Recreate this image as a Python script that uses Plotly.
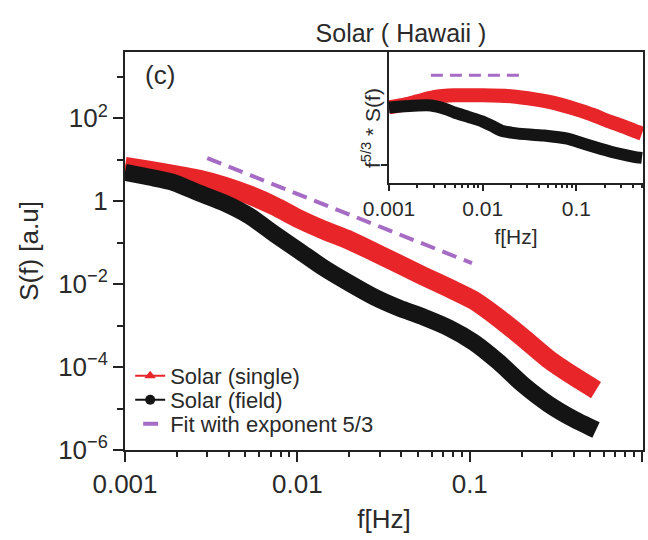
import plotly.graph_objects as go

# ---- data ----
f_single = [0.001, 0.0014, 0.0019, 0.0027, 0.0038, 0.0053, 0.0074, 0.0103, 0.0143, 0.02,
            0.028, 0.039, 0.054, 0.076, 0.105, 0.147, 0.205, 0.286, 0.4, 0.54]
s_single = [6.97, 5.58, 4.48, 3.39, 2.30, 1.40, 0.759, 0.368, 0.200, 0.115,
            0.059, 0.0303, 0.0156, 0.0080, 0.00411, 0.00152, 5.0e-4, 1.56e-4, 6.07e-5, 2.79e-5]

f_field = [0.001, 0.0014, 0.0019, 0.0027, 0.0038, 0.0053, 0.0074, 0.0103, 0.0143, 0.02,
           0.028, 0.039, 0.054, 0.076, 0.105, 0.147, 0.205, 0.286, 0.4, 0.54]
s_field = [5.0, 3.79, 2.87, 1.56, 0.895, 0.436, 0.160, 0.0624, 0.0243, 0.01057,
           0.00486, 0.00264, 0.0016, 8.7e-4, 4.0e-4, 1.32e-4, 3.68e-5, 1.28e-5, 5.58e-6, 3.03e-6]

f_fit = [0.003, 0.103]
s_fit = [11.0, 0.032]

# inset: compensated spectrum f^(5/3)*S(f), arbitrary units
fi_single = [0.001, 0.0015, 0.002, 0.003, 0.005, 0.01, 0.02, 0.036, 0.06, 0.1, 0.15, 0.21, 0.3, 0.41, 0.5]
ci_single = [0.577, 0.600, 0.623, 0.655, 0.669, 0.669, 0.662, 0.638, 0.608, 0.562, 0.52, 0.477, 0.438, 0.40, 0.377]
fi_field = [0.001, 0.0018, 0.0028, 0.004, 0.005, 0.007, 0.01, 0.013, 0.0157, 0.02, 0.024, 0.045,
            0.08, 0.12, 0.18, 0.28, 0.41, 0.5]
ci_field = [0.577, 0.590, 0.592, 0.565, 0.538, 0.505, 0.469, 0.43, 0.40, 0.385, 0.377, 0.362,
            0.338, 0.30, 0.262, 0.225, 0.2, 0.192]
fi_fit = [0.0028, 0.026]
ci_fit = [0.823, 0.823]

x_ticks = [0.001, 0.01, 0.1, 1]
x_ticktext = ["0.001", "0.01", "0.1", "1"]
y_ticks = [1e-6, 1e-4, 1e-2, 1, 1e2]
y_ticktext = ["10<sup>−6</sup>", "10<sup>−4</sup>", "10<sup>−2</sup>", "1", "10<sup>2</sup>"]
y_minor = [1e-5, 1e-3, 1e-1, 10, 1e3]
xi_ticks = [0.001, 0.01, 0.1]
xi_ticktext = ["0.001", "0.01", "0.1"]

RED = "#E8262A"
BLACK = "#141414"
PURPLE = "#A66BC4"
TXT = "#2a2a2a"
FONT = "Liberation Sans, Arial, Helvetica, sans-serif"

x_minor = [m * d for d in (0.001, 0.01, 0.1) for m in range(2, 10)]
xi_minor = [v for v in x_minor if v <= 0.5]

fig = go.Figure()

# main traces
fig.add_trace(go.Scatter(x=f_single, y=s_single, mode="lines", line=dict(color=RED, width=19, shape="spline", smoothing=0.6),
                         showlegend=False, xaxis="x", yaxis="y"))
fig.add_trace(go.Scatter(x=f_field, y=s_field, mode="lines", line=dict(color=BLACK, width=17, shape="spline", smoothing=0.6),
                         showlegend=False, xaxis="x", yaxis="y"))
fig.add_trace(go.Scatter(x=f_fit, y=s_fit, mode="lines", line=dict(color=PURPLE, width=4, dash="15px,8px"),
                         showlegend=False, xaxis="x", yaxis="y"))

# legend entries (one legend box each so the rows can be spaced like the reference)
fig.add_trace(go.Scatter(x=[None], y=[None], mode="lines+markers", name="Solar (single)", legend="legend",
                         line=dict(color=RED, width=2), marker=dict(symbol="triangle-up", size=10, color=RED)))
fig.add_trace(go.Scatter(x=[None], y=[None], mode="lines+markers", name="Solar (field)", legend="legend2",
                         line=dict(color=BLACK, width=2), marker=dict(symbol="circle", size=10, color=BLACK)))
fig.add_trace(go.Scatter(x=[None], y=[None], mode="lines", name="Fit with exponent 5/3", legend="legend3",
                         line=dict(color=PURPLE, width=4, dash="0px,8px,15px,40px")))

# inset traces
fig.add_trace(go.Scatter(x=fi_single, y=ci_single, mode="lines", line=dict(color=RED, width=14, shape="spline", smoothing=0.6),
                         showlegend=False, xaxis="x2", yaxis="y2"))
fig.add_trace(go.Scatter(x=fi_field, y=ci_field, mode="lines", line=dict(color=BLACK, width=12, shape="spline", smoothing=0.6),
                         showlegend=False, xaxis="x2", yaxis="y2"))
fig.add_trace(go.Scatter(x=fi_fit, y=ci_fit, mode="lines", line=dict(color=PURPLE, width=3, dash="12px,7px"),
                         showlegend=False, xaxis="x2", yaxis="y2"))

axis_common = dict(showline=True, linecolor="#222", linewidth=2, showgrid=False, zeroline=False,
                   ticks="outside", tickcolor="#222", tickwidth=1.5)

legend_common = dict(x=0.01, xanchor="left", yanchor="middle", bgcolor="rgba(0,0,0,0)",
                     font=dict(size=22, color=TXT), itemwidth=30)

fig.update_layout(
    width=648, height=540,
    margin=dict(l=125, r=3, t=52, b=90),
    paper_bgcolor="white", plot_bgcolor="white",
    font=dict(family=FONT, color=TXT, size=26),
    title=dict(text="Solar ( Hawaii )", x=401 / 648, y=1 - 33 / 540, xanchor="center", yanchor="middle",
               font=dict(size=25, color=TXT)),
    xaxis=dict(type="log", range=[-3, 0.005], domain=[0, 1], tickvals=x_ticks, ticktext=x_ticktext,
               ticklen=10, mirror=True, tickfont=dict(size=26),
               minor=dict(tickvals=x_minor, ticklen=5, ticks="outside", tickcolor="#222"),
               title=dict(text="f[Hz]", font=dict(size=26), standoff=12), **axis_common),
    yaxis=dict(type="log", range=[-6, 3.6], domain=[0, 1], tickvals=y_ticks, ticktext=y_ticktext,
               ticklen=10, mirror=True, tickfont=dict(size=26),
               minor=dict(tickvals=y_minor, ticklen=6, ticks="outside", tickcolor="#222"),
               title=dict(text="S(f) [a.u]", font=dict(size=26), standoff=12), **axis_common),
    xaxis2=dict(type="log", range=[-3, -0.29], domain=[(390 - 125) / 520, 1], anchor="y2",
                tickvals=xi_ticks, ticktext=xi_ticktext, ticklen=6, tickfont=dict(size=21),
                minor=dict(tickvals=xi_minor, ticklen=3, ticks="outside", tickcolor="#222"),
                title=dict(text="f[Hz]", font=dict(size=21), standoff=10), **axis_common),
    yaxis2=dict(range=[0, 1], domain=[(450 - 183) / 398, 1], anchor="x2",
                tickvals=[0.14], showticklabels=False, ticklen=6, **axis_common),
    legend=dict(y=(450 - 376) / 398, **legend_common),
    legend2=dict(y=(450 - 400) / 398, **legend_common),
    legend3=dict(y=(450 - 424) / 398, **legend_common),
    annotations=[
        dict(text="(c)", x=(160 - 125) / 520, y=(450 - 75) / 398, xref="paper", yref="paper",
             showarrow=False, font=dict(size=26, color=TXT), xanchor="center", yanchor="middle"),
        dict(text="f<sup>5/3</sup> * S(f)", x=(372 - 125) / 520, y=(450 - 128) / 398, xref="paper",
             yref="paper", showarrow=False, textangle=-90, font=dict(size=21, color=TXT),
             xanchor="center", yanchor="middle"),
    ],
)

fig.write_html("out.html")
